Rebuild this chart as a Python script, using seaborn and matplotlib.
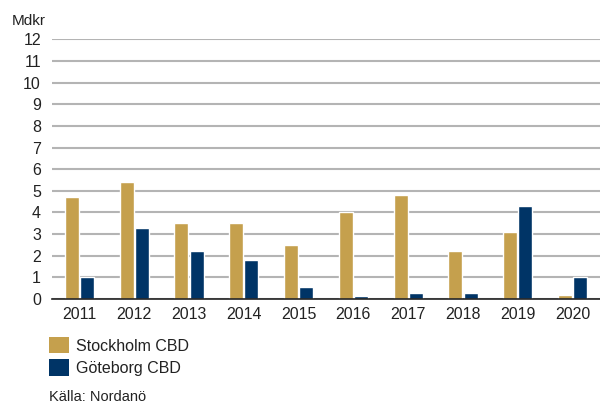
import matplotlib
matplotlib.use("Agg")
import matplotlib.pyplot as plt
import seaborn as sns
import pandas as pd
from matplotlib.patches import Patch

years = ["2011", "2012", "2013", "2014", "2015", "2016", "2017", "2018", "2019", "2020"]
stockholm = [4.7, 5.4, 3.5, 3.5, 2.5, 4.0, 4.8, 2.2, 3.1, 0.2]
goteborg = [1.0, 3.3, 2.2, 1.8, 0.55, 0.12, 0.3, 0.3, 4.3, 1.0]
series_names = ["Stockholm CBD", "Göteborg CBD"]
colors = ["#C5A04D", "#003466"]
yticks = list(range(0, 13))

df = pd.DataFrame({
    "year": years * 2,
    "value": stockholm + goteborg,
    "series": [series_names[0]] * len(years) + [series_names[1]] * len(years),
})

sns.set_style("white")
plt.rcParams["font.family"] = ["Liberation Sans", "DejaVu Sans"]

fig = plt.figure(figsize=(6.0, 4.03), dpi=100)
ax = fig.add_axes([52 / 600, 1 - 299 / 403, 548 / 600, (299 - 39.3) / 403])

sns.barplot(data=df, x="year", y="value", hue="series", palette=colors,
            width=0.55, gap=0.07, ax=ax, legend=False, saturation=1)

ax.set_ylim(0, 12)
ax.set_xlim(-0.5, 9.5)
ax.set_yticks(yticks)
ax.set_yticklabels([str(t) for t in yticks])
ax.yaxis.grid(True, color="#b4b4b4", linewidth=1.5)
ax.set_axisbelow(True)
for s in ["top", "right", "left"]:
    ax.spines[s].set_visible(False)
ax.spines["bottom"].set_color("#222222")
ax.spines["bottom"].set_linewidth(1.2)
ax.tick_params(axis="both", length=0, labelsize=11.5, colors="#222222")
ax.tick_params(axis="y", pad=8)
ax.tick_params(axis="x", pad=6)
ax.set_xlabel("")
ax.set_ylabel("")

fig.text(12 / 600, 1 - 21 / 403, "Mdkr", fontsize=11, color="#222222", va="center", ha="left")

handles = [Patch(facecolor=c, edgecolor="none") for c in colors]
fig.legend(handles, series_names, loc="upper left", bbox_to_anchor=(49 / 600, 1 - 337 / 403),
           frameon=False, fontsize=11.5, handlelength=1.25, handleheight=1.2,
           handletextpad=0.45, labelspacing=0.35, borderaxespad=0, borderpad=0,
           labelcolor="#222222")

fig.text(49 / 600, 1 - 397 / 403, "Källa: Nordanö", fontsize=10.5, color="#222222", va="center", ha="left")

fig.savefig("out.png", dpi=100)
